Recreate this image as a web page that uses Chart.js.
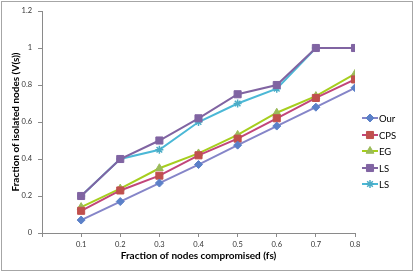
<!DOCTYPE html>
<html><head><meta charset="utf-8">
<script src="https://cdn.jsdelivr.net/npm/chart.js@4/dist/chart.umd.min.js"></script>
<style>html,body{margin:0;padding:0;background:#fff}#wrap{width:415px;height:273px;position:relative}</style>
</head><body><div id="wrap"><canvas id="c" width="415" height="273"></canvas></div>
<script>
const xValues = [0.1, 0.2, 0.3, 0.4, 0.5, 0.6, 0.7, 0.8];
const ourValues = [0.07, 0.17, 0.27, 0.37, 0.475, 0.578, 0.68, 0.785];
const cpsValues = [0.12, 0.23, 0.31, 0.42, 0.51, 0.62, 0.73, 0.83];
const egValues  = [0.14, 0.24, 0.35, 0.43, 0.53, 0.65, 0.74, 0.86];
const ls1Values = [0.2, 0.4, 0.5, 0.62, 0.75, 0.8, 1, 1];
const ls2Values = [0.2, 0.4, 0.45, 0.6, 0.7, 0.78, 1, 1];
const seriesNames = ['Our', 'CPS', 'EG', 'LS', 'LS'];
const xTitle = 'Fraction of nodes compromised (fs)';
const yTitle = 'Fraction of isolated nodes (V(s))';

const FONT = 'Lato, "Open Sans", sans-serif';
function pts(v){ return xValues.map((x,i)=>({x:x,y:v[i]})); }
const datasets = [
  {label:seriesNames[0], data:pts(ourValues), borderColor:'#8585C8', backgroundColor:'#5B80C8', pointBackgroundColor:'#5B80C8', pointBorderColor:'#5B80C8', pointStyle:'rectRot', pointRadius:4},
  {label:seriesNames[1], data:pts(cpsValues), borderColor:'#C2467A', backgroundColor:'#C0504D', pointBackgroundColor:'#C0504D', pointBorderColor:'#C0504D', pointStyle:'rect', pointRadius:5},
  {label:seriesNames[2], data:pts(egValues), borderColor:'#A6CE1E', backgroundColor:'#9BBB59', pointBackgroundColor:'#9BBB59', pointBorderColor:'#9BBB59', pointStyle:'triangle', pointRadius:4.5},
  {label:seriesNames[3], data:pts(ls1Values), borderColor:'#8064A2', backgroundColor:'#8064A2', pointBackgroundColor:'#8064A2', pointBorderColor:'#8064A2', pointStyle:'rect', pointRadius:5},
  {label:seriesNames[4], data:pts(ls2Values), borderColor:'#4BB8D6', backgroundColor:'#4BACC6', pointBackgroundColor:'#4BACC6', pointBorderColor:'#4BACC6', pointStyle:'star', pointRadius:4, pointBorderWidth:1.5}
];
datasets.forEach(d=>{ d.borderWidth=2; d.tension=0; d.pointBorderWidth = d.pointBorderWidth||1; });

const frame = {
  id:'frame',
  afterDraw(chart){
    const ctx = chart.ctx;
    ctx.save();
    ctx.strokeStyle = '#a6a6a6'; ctx.lineWidth = 1;
    ctx.strokeRect(1.5,1.5,411,269);
    const ys = [118, 135, 151, 168, 184];
    ctx.font = '9.5px ' + FONT; ctx.textBaseline = 'middle'; ctx.fillStyle = '#000';
    chart.data.datasets.forEach((d,i)=>{
      const y = ys[i];
      ctx.strokeStyle = d.borderColor; ctx.lineWidth = 2;
      ctx.beginPath(); ctx.moveTo(362,y); ctx.lineTo(378,y); ctx.stroke();
      ctx.fillStyle = d.pointBackgroundColor; ctx.strokeStyle = d.pointBorderColor; ctx.lineWidth = d.pointBorderWidth;
      Chart.helpers.drawPoint(ctx, {pointStyle:d.pointStyle, radius:d.pointRadius, borderWidth:d.pointBorderWidth}, 370, y);
      ctx.fillStyle = '#000';
      ctx.fillText(d.label, 379, y+0.5);
    });
    ctx.restore();
  }
};

new Chart(document.getElementById('c'), {
  type:'line',
  data:{datasets:datasets},
  options:{
    responsive:false, animation:false, devicePixelRatio:1,
    layout:{padding:{left:10,right:60,top:11,bottom:11}},
    plugins:{legend:{display:false}, tooltip:{enabled:false}},
    scales:{
      x:{type:'linear', min:0, max:0.8,
        afterFit(s){ s.height = 29; },
        ticks:{stepSize:0.1, autoSkip:false, maxRotation:0, color:'#333', font:{family:FONT,size:7.5}, padding:3,
          callback(v){ return v===0 ? '' : (Math.round(v*10)/10).toString(); }},
        grid:{drawOnChartArea:false, drawTicks:true, tickLength:4, color:'#8a8a8a'},
        border:{color:'#8a8a8a'},
        title:{display:true, text:xTitle, color:'#000', font:{family:FONT,size:10,weight:'bold'}, padding:{top:4,bottom:0}}
      },
      y:{min:0, max:1.2,
        afterFit(s){ s.width = 32; },
        ticks:{stepSize:0.2, color:'#333', font:{family:FONT,size:7.5}, padding:6,
          callback(v){ return (Math.round(v*10)/10).toString(); }},
        grid:{drawOnChartArea:false, drawTicks:true, tickLength:4, color:'#8a8a8a'},
        border:{color:'#8a8a8a'},
        title:{display:true, text:yTitle, color:'#000', font:{family:FONT,size:10,weight:'bold'}, padding:{top:0,bottom:2}}
      }
    }
  },
  plugins:[frame]
});
</script></body></html>
